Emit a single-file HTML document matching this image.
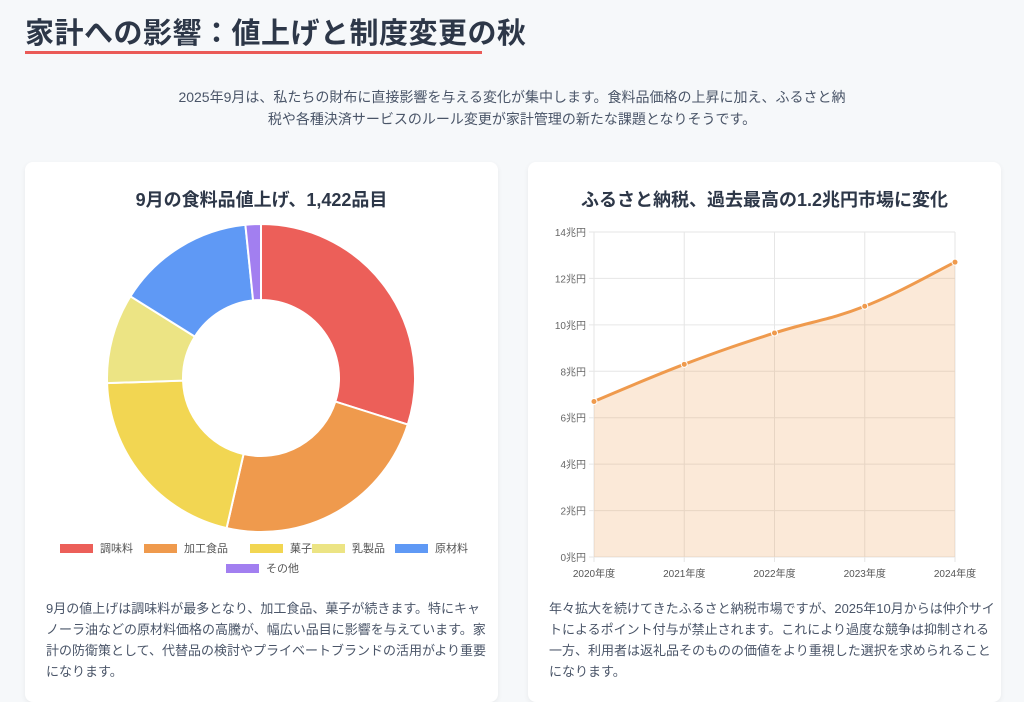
<!DOCTYPE html>
<html><head><meta charset="utf-8"><style>
*{box-sizing:border-box;margin:0;padding:0}
body{width:1024px;height:684px;overflow:hidden;background:#f6f8fa;font-family:"Liberation Sans","Noto Sans CJK JP",sans-serif;color:#2d3748;position:relative}
h1{position:absolute;left:25px;top:10px;font-size:29px;font-weight:bold;color:#2d3748;white-space:nowrap;letter-spacing:0.5px}
.ul{position:absolute;left:25px;top:51px;width:457px;height:3px;background:#ea5a57}
.intro{position:absolute;left:0;width:1024px;top:86px;text-align:center;font-size:14px;line-height:22px;color:#4a5568}
.card{position:absolute;top:162px;width:473px;height:540px;background:#fff;border-radius:8px;box-shadow:0 2px 6px rgba(0,0,0,0.06)}
.card h2{position:absolute;left:0;width:100%;top:24px;text-align:center;font-size:18px;font-weight:bold;color:#2d3748}
.desc{position:absolute;left:21px;top:436px;font-size:13px;line-height:21px;color:#4a5568;white-space:nowrap}
svg text{font-family:"Liberation Sans","Noto Sans CJK JP",sans-serif}
</style></head><body>
<h1>家計への影響：値上げと制度変更の秋</h1>
<div class="ul"></div>
<p class="intro">2025年9月は、私たちの財布に直接影響を与える変化が集中します。食料品価格の上昇に加え、ふるさと納<br>税や各種決済サービスのルール変更が家計管理の新たな課題となりそうです。</p>

<div class="card" style="left:25px">
<h2>9月の食料品値上げ、1,422品目</h2>
<svg id="donut" width="473" height="420" style="position:absolute;left:0;top:0"></svg>
<p class="desc">9月の値上げは調味料が最多となり、加工食品、菓子が続きます。特にキャ<br>ノーラ油などの原材料価格の高騰が、幅広い品目に影響を与えています。家<br>計の防衛策として、代替品の検討やプライベートブランドの活用がより重要<br>になります。</p>
</div>

<div class="card" style="left:528px">
<h2>ふるさと納税、過去最高の1.2兆円市場に変化</h2>
<svg id="line" width="473" height="420" style="position:absolute;left:0;top:0"></svg>
<p class="desc">年々拡大を続けてきたふるさと納税市場ですが、2025年10月からは仲介サイ<br>トによるポイント付与が禁止されます。これにより過度な競争は抑制される<br>一方、利用者は返礼品そのものの価値をより重視した選択を求められること<br>になります。</p>
</div>

<script>
const donutLabels=["調味料","加工食品","菓子","乳製品","原材料","その他"];
const donutValues=[425,337,297,134,206,23];
const donutColors=["#ec5f59","#ef9a4d","#f2d652","#ece484","#5f99f5","#a27ff0"];

const lineCategories=["2020年度","2021年度","2022年度","2023年度","2024年度"];
const lineValues=[6.7,8.3,9.65,10.8,12.7];
const yTicks=[0,2,4,6,8,10,12,14];

const NS="http://www.w3.org/2000/svg";
function mk(tag,attrs,parent){const e=document.createElementNS(NS,tag);for(const k in attrs)e.setAttribute(k,attrs[k]);parent.appendChild(e);return e;}

// donut
(function(){
const svg=document.getElementById('donut');
const cx=236,cy=216,R=154,r=78;
const total=donutValues.reduce((a,b)=>a+b,0);
let a0=0;
donutValues.forEach((v,i)=>{
 const a1=a0+v/total*Math.PI*2;
 const p=(a,rad)=>[cx+rad*Math.sin(a),cy-rad*Math.cos(a)];
 const large=(a1-a0)>Math.PI?1:0;
 const [x0,y0]=p(a0,R),[x1,y1]=p(a1,R),[x2,y2]=p(a1,r),[x3,y3]=p(a0,r);
 const path=mk('path',{d:`M${x0},${y0}A${R},${R} 0 ${large} 1 ${x1},${y1}L${x2},${y2}A${r},${r} 0 ${large} 0 ${x3},${y3}Z`,fill:donutColors[i],stroke:'#fff','stroke-width':2},svg);
 
 
 a0=a1;
});
// legend
const row1=[[35,0],[119,1],[225,2],[287,3],[370,4]];
const pos=[[35,386],[119,386],[225,386],[287,386],[370,386],[201,406]];
donutLabels.forEach((l,i)=>{
 const g=mk('g',{},svg);
 
 
 const [x,y]=pos[i];
 mk('rect',{x:x,y:y-4,width:33,height:9,fill:donutColors[i]},g);
 const t=mk('text',{x:x+40,y:y+4,'font-size':11,fill:'#555'},g);t.textContent=l;
});
})();

// line
(function(){
const svg=document.getElementById('line');
const x0=66,x1=427,y0=395,y1=70,ymax=14;
const X=i=>x0+(x1-x0)*i/(lineCategories.length-1);
const Y=v=>y0-(y0-y1)*v/ymax;
yTicks.forEach(t=>{
 mk('line',{x1:x0-5,x2:x1,y1:Y(t),y2:Y(t),stroke:'#e6e6e6'},svg);
 const tx=mk('text',{x:x0-8,y:Y(t)+4,'font-size':10,fill:'#666','text-anchor':'end'},svg);
 tx.textContent=t+'兆円';
 
 
});
lineCategories.forEach((c,i)=>{
 mk('line',{x1:X(i),x2:X(i),y1:y1,y2:y0+5,stroke:'#e6e6e6'},svg);
 const tx=mk('text',{x:X(i),y:y0+20,'font-size':10,fill:'#555','text-anchor':'middle'},svg);
 tx.textContent=c;
 
 
});
// smooth path
const pts=lineValues.map((v,i)=>[X(i),Y(v)]);
let d=`M${pts[0][0]},${pts[0][1]}`;
for(let i=0;i<pts.length-1;i++){
 const p0=pts[Math.max(i-1,0)],p1=pts[i],p2=pts[i+1],p3=pts[Math.min(i+2,pts.length-1)];
 const t=0.2;
 d+=` C${p1[0]+(p2[0]-p0[0])*t},${p1[1]+(p2[1]-p0[1])*t} ${p2[0]-(p3[0]-p1[0])*t},${p2[1]-(p3[1]-p1[1])*t} ${p2[0]},${p2[1]}`;
}
const area=mk('path',{d:d+` L${X(pts.length-1)},${y0} L${x0},${y0}Z`,fill:'rgba(239,154,77,0.22)'},svg);


const ln=mk('path',{d:d,fill:'none',stroke:'#ef9a4d','stroke-width':3},svg);


pts.forEach((p,i)=>{
 const c=mk('circle',{cx:p[0],cy:p[1],r:3,fill:'#ef9a4d',stroke:'#fff','stroke-width':1},svg);
 
 
});
})();
</script>
</body></html>
